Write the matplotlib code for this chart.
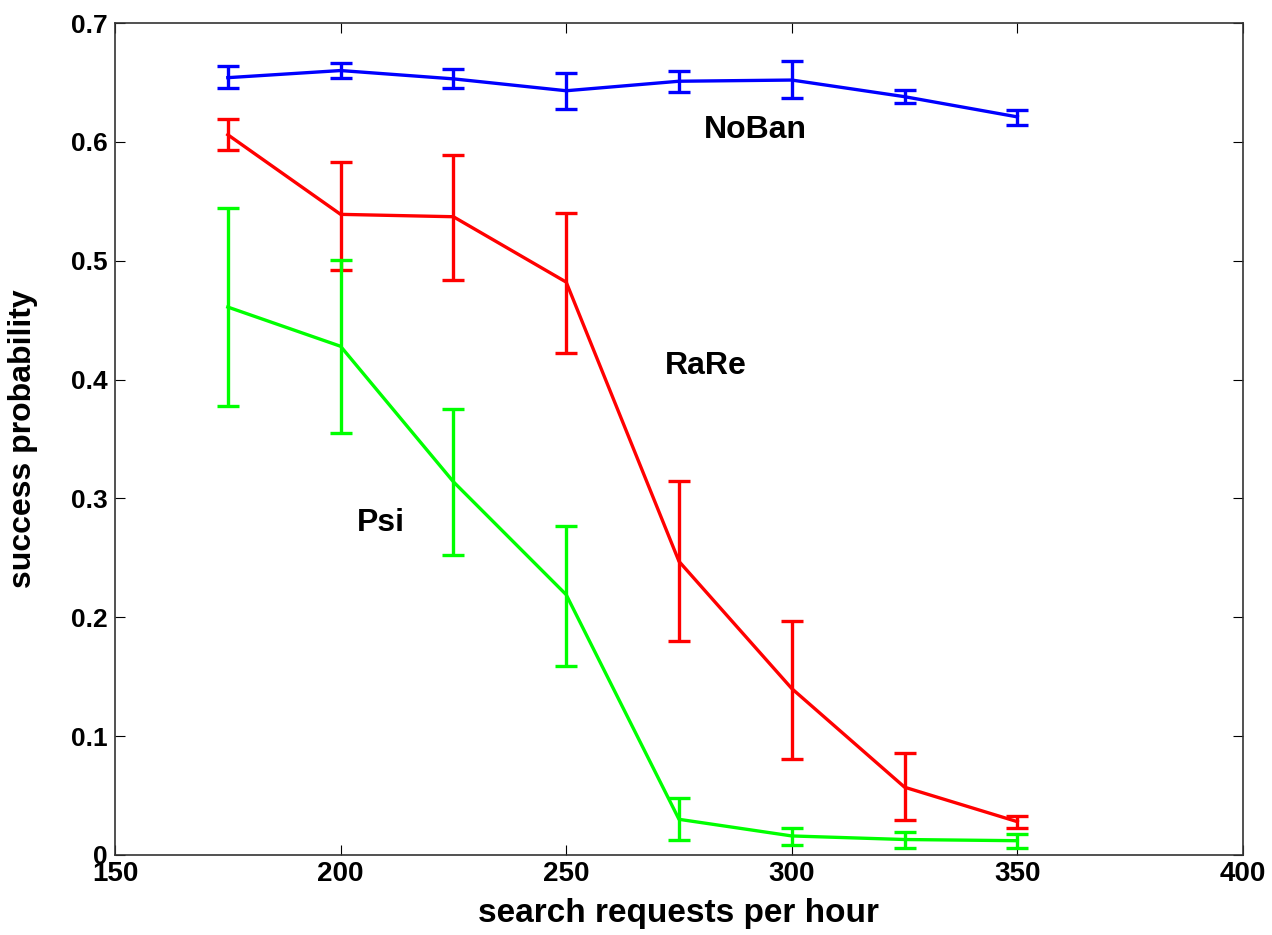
import numpy as np
import matplotlib.pyplot as plt

x = np.array([175, 200, 225, 250, 275, 300, 325, 350])

noban = np.array([0.654, 0.660, 0.653, 0.643, 0.651, 0.652, 0.638, 0.621])
noban_lo = np.array([0.645, 0.654, 0.645, 0.628, 0.642, 0.637, 0.633, 0.614])
noban_hi = np.array([0.664, 0.666, 0.661, 0.658, 0.660, 0.668, 0.644, 0.627])

rare = np.array([0.606, 0.539, 0.537, 0.482, 0.247, 0.140, 0.057, 0.028])
rare_lo = np.array([0.593, 0.492, 0.484, 0.422, 0.180, 0.081, 0.029, 0.023])
rare_hi = np.array([0.619, 0.583, 0.589, 0.540, 0.315, 0.197, 0.086, 0.033])

psi = np.array([0.461, 0.428, 0.314, 0.219, 0.030, 0.016, 0.013, 0.012])
psi_lo = np.array([0.378, 0.355, 0.252, 0.159, 0.013, 0.008, 0.006, 0.006])
psi_hi = np.array([0.544, 0.501, 0.375, 0.277, 0.048, 0.023, 0.019, 0.018])

plt.rcParams['font.family'] = ['Liberation Sans', 'DejaVu Sans']

fig = plt.figure(figsize=(12.72, 9.35), dpi=100)
ax = fig.add_axes([0.0904, 0.0856, 0.8868, 0.8898])

series = [
    (noban, noban_lo, noban_hi, '#0000ff'),
    (rare, rare_lo, rare_hi, '#ff0000'),
    (psi, psi_lo, psi_hi, '#00ff00'),
]
for y, lo, hi, c in series:
    ax.errorbar(x, y, yerr=[y - lo, hi - y], color=c, lw=2.4,
                elinewidth=2.4, capsize=8, capthick=2.4)

ax.text(292, 0.610, 'NoBan', fontsize=23, fontweight='bold', ha='center', va='center')
ax.text(281, 0.411, 'RaRe', fontsize=23, fontweight='bold', ha='center', va='center')
ax.text(209, 0.279, 'Psi', fontsize=23, fontweight='bold', ha='center', va='center')

ax.set_xlim(150, 400)
ax.set_ylim(0, 0.7)
ax.set_xticks([150, 200, 250, 300, 350, 400])
ax.set_yticks([0, 0.1, 0.2, 0.3, 0.4, 0.5, 0.6, 0.7])
ax.set_yticklabels(['0', '0.1', '0.2', '0.3', '0.4', '0.5', '0.6', '0.7'])
ax.tick_params(direction='in', length=7.5, width=0.8, pad=5,
               top=True, right=True)
ax.tick_params(axis='x', labelsize=20, pad=4)
ax.tick_params(axis='y', labelsize=19)
for lab in ax.get_xticklabels() + ax.get_yticklabels():
    lab.set_fontweight('bold')
for sp in ax.spines.values():
    sp.set_linewidth(1.2)
    sp.set_color('#333333')
ax.set_xlabel('search requests per hour', fontsize=24, fontweight='bold')
ax.set_ylabel('success probability', fontsize=23, fontweight='bold')
ax.xaxis.set_label_coords(0.5, -0.052)
ax.yaxis.set_label_coords(-0.068, 0.5)

fig.savefig('out.png', dpi=100)
